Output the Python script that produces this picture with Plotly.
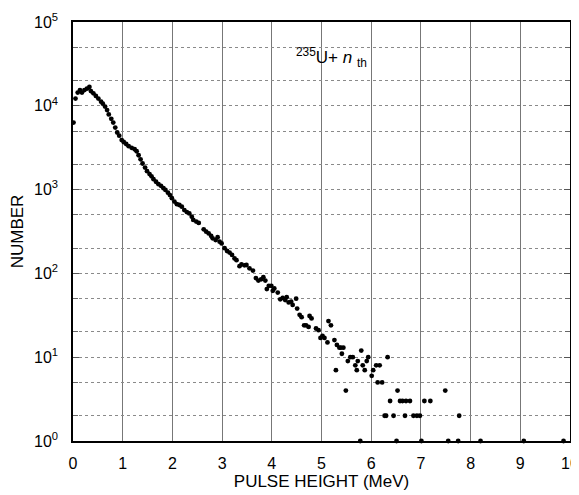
import plotly.graph_objects as go

# Pulse height (MeV) and counts
pulse_height = [
    0.01, 0.05, 0.095, 0.14, 0.18, 0.23, 0.28, 0.33, 0.36, 0.41, 0.46, 0.51, 0.565, 0.60,
    0.645, 0.686, 0.72, 0.77, 0.81, 0.85, 0.89, 0.93, 0.98, 1.02, 1.07, 1.12, 1.18, 1.24,
    1.28, 1.32, 1.36, 1.40, 1.45, 1.49, 1.54, 1.58, 1.62, 1.67, 1.72, 1.77, 1.82, 1.86,
    1.91, 1.95, 1.99, 2.04, 2.09, 2.14, 2.19, 2.24, 2.29, 2.34, 2.39, 2.42, 2.48, 2.53,
    2.63, 2.68, 2.73, 2.78, 2.81, 2.87, 2.91, 2.95, 2.99, 3.05, 3.10, 3.15, 3.20, 3.25,
    3.29, 3.35, 3.39, 3.45, 3.49, 3.55, 3.62, 3.68, 3.73, 3.785, 3.83, 3.87, 3.90, 3.94,
    3.99, 4.02, 4.05, 4.12, 4.17, 4.22, 4.27, 4.30, 4.34, 4.39, 4.42, 4.49, 4.51, 4.56,
    4.60, 4.65, 4.69, 4.74, 4.76, 4.80, 4.89, 4.94, 4.98, 5.02, 5.06, 5.12, 5.14, 5.19,
    5.26, 5.29, 5.31, 5.36, 5.39, 5.41, 5.44, 5.49, 5.53, 5.58, 5.63, 5.68, 5.71, 5.73,
    5.78, 5.80, 5.83, 5.87, 5.91, 5.94, 6.01, 6.04, 6.10, 6.13, 6.17, 6.22, 6.27, 6.30,
    6.33, 6.38, 6.45, 6.51, 6.53, 6.58, 6.63, 6.68, 6.70, 6.78, 6.85, 6.92, 6.98, 7.01,
    7.07, 7.19, 7.49, 7.55, 7.75, 7.77, 8.20, 9.07, 9.87,
]
counts = [
    6300, 12200, 14400, 15400, 14400, 15400, 16000, 16800, 15000, 14100, 13100, 12200, 11200, 10600,
    9800, 8900, 7900, 7000, 6300, 5500, 4800, 4400, 3900, 3700, 3500, 3300, 3150, 3030,
    2870, 2570, 2300, 2050, 1830, 1660, 1530, 1440, 1330, 1240, 1160, 1110, 1040, 990,
    920, 860, 790, 720, 670, 655, 625, 570, 540, 520, 475, 435, 415, 400,
    336, 315, 300, 280, 262, 250, 270, 239, 228, 200, 185, 177, 166, 151,
    144, 122, 128, 125, 126, 115, 108, 88, 82, 85, 90, 82, 65, 71,
    71, 62, 66, 59, 49, 51, 48, 52, 45, 46, 42, 50, 38, 32,
    30, 24, 24, 23, 31, 29, 22, 21, 17, 18, 17, 15, 27, 24,
    16, 7, 14, 13, 13, 11, 13, 4, 9, 10, 10, 8, 7, 9,
    1, 12, 8, 7, 9, 10, 6, 7, 8, 5, 8, 5, 2, 2,
    10, 3, 2, 1, 4, 3, 3, 2, 3, 3, 2, 2, 2, 1,
    3, 3, 4, 1, 1, 2, 1, 1, 1,
]

x_ticks = [0, 1, 2, 3, 4, 5, 6, 7, 8, 9, 10]
y_ticks = [1, 10, 100, 1000, 10000, 100000]
y_tick_text = ["10<sup>0</sup>", "10<sup>1</sup>", "10<sup>2</sup>", "10<sup>3</sup>",
               "10<sup>4</sup>", "10<sup>5</sup>"]
y_grid = [1, 2, 5, 10, 20, 50, 100, 200, 500, 1000, 2000, 5000,
          10000, 20000, 50000, 100000]

FONT = "Liberation Sans, Arial, sans-serif"

fig = go.Figure()
fig.add_trace(go.Scatter(
    x=pulse_height, y=counts, mode="markers",
    marker=dict(size=4.8, color="black"),
    cliponaxis=False, showlegend=False, yaxis="y",
))
# invisible trace to activate the grid axis
fig.add_trace(go.Scatter(x=[pulse_height[0]], y=[counts[0]], mode="markers",
                         marker=dict(size=0.1, color="rgba(0,0,0,0)"),
                         showlegend=False, yaxis="y2", hoverinfo="skip"))

fig.add_annotation(x=5.2, y=4.58, xref="x", yref="y",
                   text="<sup>235</sup>U+ <i>n</i> <sub>th</sub>",
                   showarrow=False, font=dict(family=FONT, size=17, color="black"))

# the page body adds an 8 px margin, so the figure is 8 px smaller
fig.update_layout(
    width=571, height=487,
    margin=dict(l=65, r=9, t=14, b=54),
    paper_bgcolor="white", plot_bgcolor="white",
    font=dict(family=FONT, color="black"),
    xaxis=dict(
        range=[0, 10], tickvals=x_ticks, ticktext=[str(v) for v in x_ticks],
        showgrid=True, gridcolor="#777", gridwidth=1,
        showline=True, linecolor="black", linewidth=1.5, mirror=True,
        ticks="", ticklabelstandoff=7, zeroline=False, automargin=False,
        tickfont=dict(size=16, family=FONT),
        title=dict(text="PULSE HEIGHT (MeV)", font=dict(size=17, family=FONT), standoff=4),
    ),
    yaxis=dict(
        type="log", range=[0, 5], tickvals=y_ticks, ticktext=y_tick_text,
        showgrid=False, zeroline=False, automargin=False,
        showline=True, linecolor="black", linewidth=1.5, mirror="allticks",
        ticks="inside", ticklen=6, tickcolor="#555",
        minor=dict(ticks="inside", ticklen=5, tickcolor="#666", showgrid=False),
        ticklabelstandoff=10,
        tickfont=dict(size=16, family=FONT),
        title=dict(text="NUMBER", font=dict(size=17, family=FONT), standoff=6),
    ),
    yaxis2=dict(
        type="log", range=[0, 5], overlaying="y", tickvals=y_grid,
        showgrid=True, gridcolor="#8a8a8a", gridwidth=1, griddash="dot",
        showticklabels=False, ticks="", showline=False, zeroline=False,
    ),
)

fig.write_html("out.html")
